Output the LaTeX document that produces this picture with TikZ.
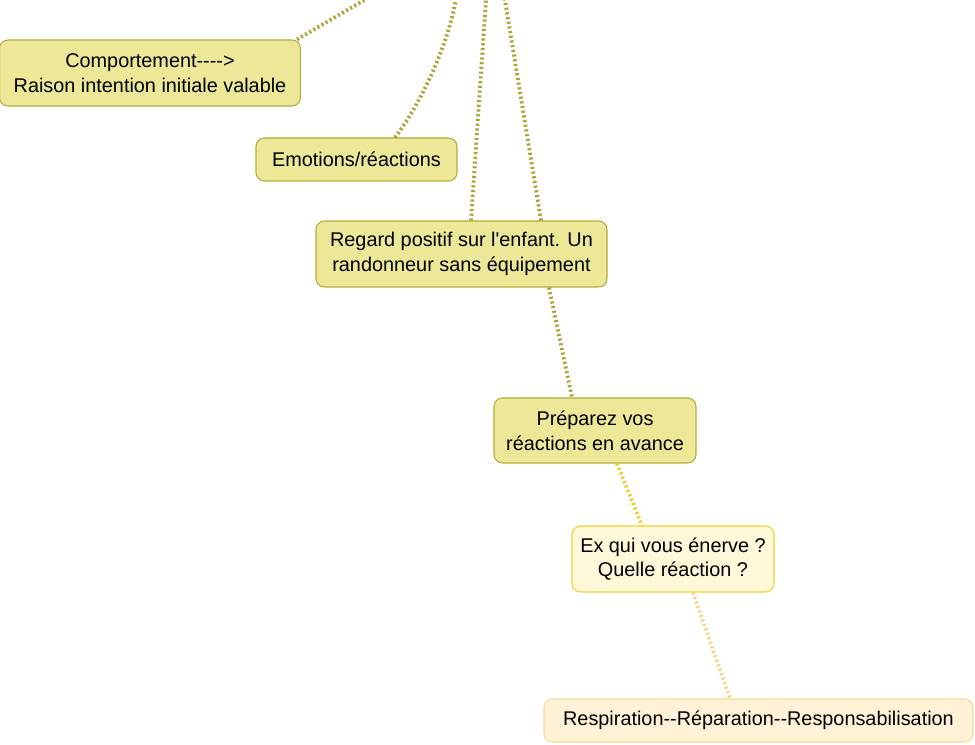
\documentclass[tikz,border=0pt]{standalone}
\usepackage{fontspec}
\setmainfont{Liberation Sans}[Ligatures=TeXOff]
\usetikzlibrary{positioning}

\definecolor{olivefill}{HTML}{EDE898}
\definecolor{olivedraw}{HTML}{B2AC3A}
\definecolor{oliveline}{HTML}{A9A435}
\definecolor{goldfill}{HTML}{FFF9DA}
\definecolor{golddraw}{HTML}{F0D232}
\definecolor{goldline}{HTML}{E8CF2C}
\definecolor{peachfill}{HTML}{FFF2D6}
\definecolor{peachdraw}{HTML}{F8D896}
\definecolor{peachline}{HTML}{F8D488}

\begin{document}
\begin{tikzpicture}[
    topic/.style={draw=olivedraw, fill=olivefill, rounded corners=0.17cm, line width=0.6pt, align=center, font=\fontsize{11.3}{14}\selectfont, inner sep=0pt},
    example/.style={topic, draw=golddraw, fill=goldfill},
    answer/.style={topic, draw=peachdraw, fill=peachfill},
    link/.style={line width=2.2pt, dash pattern=on 1.2pt off 1.5pt, color=oliveline}
]

\useasboundingbox (0,0) rectangle (19.5,-14.9);
\clip (0,0) rectangle (19.5,-14.9);

% Free ends (root is above the page)
\coordinate (top1) at (7.8,0.3);
\coordinate (top2) at (9.16,0.3);
\coordinate (top3) at (9.74,0.3);
\coordinate (top4) at (10.05,0.3);

% Nodes
\node[topic, minimum width=6.02cm, minimum height=1.32cm] (comp) at (3.0,-1.46) {Comportement---->\\Raison intention initiale valable};
\node[topic, minimum width=4.02cm, minimum height=0.86cm] (emo) at (7.13,-3.19) {Emotions/réactions};
\node[topic, minimum width=5.82cm, minimum height=1.32cm] (regard) at (9.23,-5.08) {Regard positif sur l'enfant. Un\\randonneur sans équipement};
\node[topic, minimum width=4.04cm, minimum height=1.30cm] (prep) at (11.9,-8.61) {Préparez vos\\réactions en avance};
\node[example, minimum width=4.04cm, minimum height=1.32cm] (ex) at (13.46,-11.18) {Ex qui vous énerve ?\\Quelle réaction ?};
\node[answer, minimum width=8.58cm, minimum height=0.86cm] (resp) at (15.17,-14.41) {Respiration--Réparation--Responsabilisation};

% Links
\draw[link] ([xshift=2.94cm]comp.north) -- (top1);
\draw[link] ([xshift=0.77cm]emo.north) .. controls (8.4,-2.1) and (9.04,-0.8) .. (top2);
\draw[link] ([xshift=0.19cm]regard.north) -- (top3);
\draw[link] ([xshift=1.59cm]regard.north) -- (top4);
\draw[link] ([xshift=1.75cm]regard.south) -- ([xshift=-0.46cm]prep.north);
\draw[link, color=goldline] ([xshift=0.44cm]prep.south) -- ([xshift=-0.62cm]ex.north);
\draw[link, color=peachline] ([xshift=0.40cm]ex.south) -- ([xshift=-0.57cm]resp.north);

\end{tikzpicture}
\end{document}
